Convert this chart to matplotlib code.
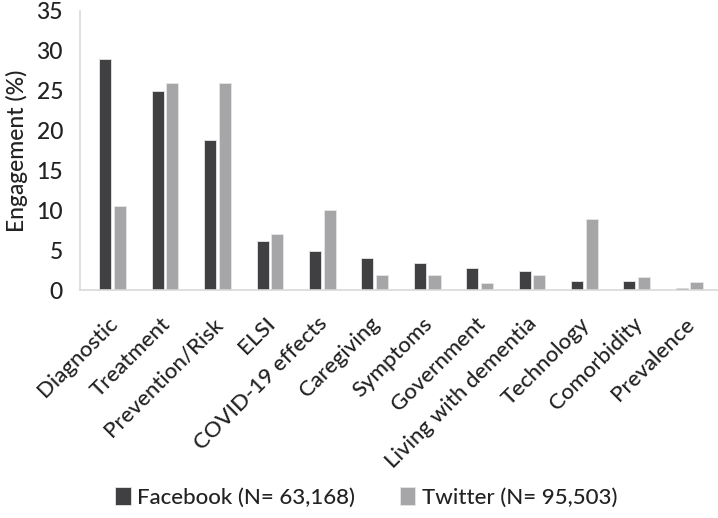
import numpy as np
import matplotlib.pyplot as plt
import matplotlib.transforms as mtransforms

plt.rcParams['font.family'] = ['Lato', 'DejaVu Sans']

categories = ['Diagnostic', 'Treatment', 'Prevention/Risk', 'ELSI', 'COVID-19 effects',
              'Caregiving', 'Symptoms', 'Government', 'Living with dementia',
              'Technology', 'Comorbidity', 'Prevalence']
facebook = [29.0, 24.9, 18.8, 6.1, 4.9, 4.0, 3.4, 2.8, 2.4, 1.2, 1.2, 0.25]
twitter = [10.5, 26.0, 26.0, 7.0, 10.0, 1.85, 1.85, 0.85, 1.85, 8.9, 1.65, 1.05]

x = np.arange(len(categories))
w = 0.23

fig = plt.figure(figsize=(7.18, 5.18), dpi=100)
ax = fig.add_axes([0.111, 0.44, 0.889, 0.539])

ax.bar(x - 0.14, facebook, w, color='#404042', edgecolor='#e6e6e6', linewidth=0.6,
       label='Facebook (N= 63,168)')
ax.bar(x + 0.14, twitter, w, color='#a6a6a8', edgecolor='#e6e6e6', linewidth=0.6,
       label='Twitter (N= 95,503)')

ax.set_xlim(-0.63, 11.55)
ax.set_ylim(0, 35)
ax.set_yticks(range(0, 36, 5))
ax.tick_params(axis='y', length=0, pad=12, labelsize=16.5, colors='#222222')
ax.tick_params(axis='x', length=0, pad=17)
ax.set_xticks(x)
ax.set_xticklabels(categories, rotation=45, ha='right', va='top',
                   rotation_mode='anchor', fontsize=16, color='#222222')
shift = mtransforms.ScaledTranslation(-5 / 100, 0, fig.dpi_scale_trans)
for lbl in ax.get_xticklabels():
    lbl.set_transform(lbl.get_transform() + shift)
for lbl in ax.get_xticklabels() + ax.get_yticklabels():
    lbl.set_fontweight('medium')

ax.set_ylabel('Engagement (%)', fontsize=16.5, color='#222222', labelpad=6,
              fontweight='medium')

for s in ['top', 'right']:
    ax.spines[s].set_visible(False)
for s in ['left', 'bottom']:
    ax.spines[s].set_color('#d9d9d9')
    ax.spines[s].set_linewidth(1.2)

leg = fig.legend(loc='center', bbox_to_anchor=(0.51, 0.04), ncol=2, frameon=False,
                 fontsize=16, handlelength=0.7, handleheight=0.9, handletextpad=0.3,
                 columnspacing=2.0, labelcolor='#222222')
for t in leg.get_texts():
    t.set_fontweight('medium')

fig.savefig('out.png', dpi=100)
